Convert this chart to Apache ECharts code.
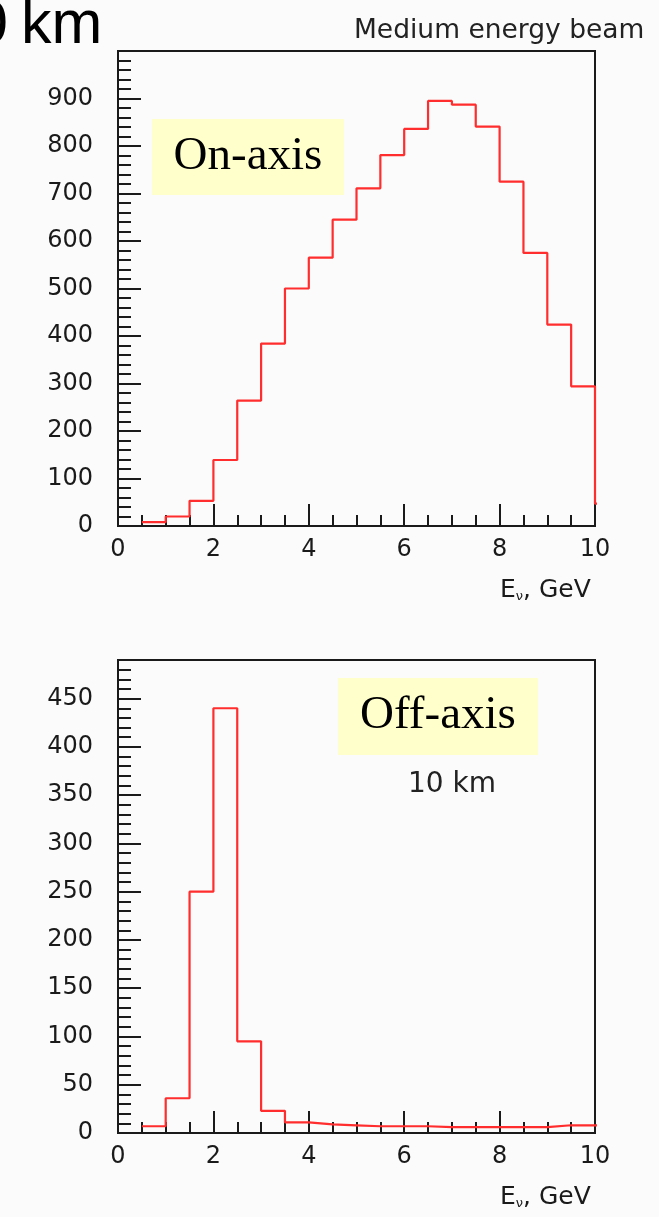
<!DOCTYPE html>
<html>
<head>
<meta charset="utf-8">
<script src="https://cdn.jsdelivr.net/npm/echarts@6/dist/echarts.min.js"></script>
<style>
html,body{margin:0;padding:0;background:#fbfbfb;}
#chart{width:659px;height:1217px;}
</style>
</head>
<body>
<div id="chart"></div>
<script>
// Bin lower edges (GeV), bin width 0.5; the last bin (10.0) lies beyond the axis and is clipped
const binLow = [0.5, 1.0, 1.5, 2.0, 2.5, 3.0, 3.5, 4.0, 4.5, 5.0, 5.5, 6.0, 6.5, 7.0, 7.5, 8.0, 8.5, 9.0, 9.5, 10.0];
const binWidth = 0.5;
const onAxisCounts  = [8, 20, 53, 139, 264, 384, 500, 565, 645, 711, 781, 836, 895, 887, 841, 725, 575, 424, 294, 47];
const offAxisCounts = [7, 36, 250, 440, 95, 23, 11, 9, 8, 7, 7, 7, 6, 6, 6, 6, 6, 8, 8, 8];
const xTicks = [0, 2, 4, 6, 8, 10];
const onAxisYMax = 1000, onAxisYStep = 100;
const offAxisYMax = 490, offAxisYStep = 50;

function histData(counts) {
  const d = binLow.map((x, i) => [x, counts[i]]);
  d.push([binLow[binLow.length - 1] + binWidth, counts[counts.length - 1]]);
  return d;
}

const ink = '#1a1a1a';
const red = '#ff2d2d';
const labelFont = 'DejaVu Sans';

function xAxis(gridIndex) {
  return {
    type: 'value', gridIndex: gridIndex, min: xTicks[0], max: xTicks[xTicks.length - 1], interval: 2,
    axisLine: { show: true, lineStyle: { color: ink, width: 2 } },
    axisTick: { show: true, inside: true, length: 22, lineStyle: { color: ink, width: 2 } },
    minorTick: { show: true, splitNumber: 4, length: 11, lineStyle: { color: ink, width: 2 } },
    splitLine: { show: false },
    axisLabel: { color: ink, fontSize: 24, fontFamily: labelFont, margin: 12 },
    name: '{e|E}{s|ν}{e|, GeV}',
    nameLocation: 'end', nameGap: -95,
    nameTextStyle: {
      align: 'left', verticalAlign: 'top', padding: [52, 0, 0, 0],
      rich: {
        e: { fontSize: 25, fontFamily: labelFont, color: ink },
        s: { fontSize: 13, fontFamily: labelFont, color: ink, verticalAlign: 'bottom', padding: [11, 0, 0, 0] }
      }
    }
  };
}
function yAxis(gridIndex, max, step) {
  return {
    type: 'value', gridIndex: gridIndex, min: 0, max: max, interval: step,
    axisLine: { show: true, lineStyle: { color: ink, width: 2 } },
    axisTick: { show: true, inside: true, length: 23, lineStyle: { color: ink, width: 2 } },
    minorTick: { show: true, splitNumber: 5, length: 13, lineStyle: { color: ink, width: 2 } },
    splitLine: { show: false },
    axisLabel: { color: ink, fontSize: 24, fontFamily: labelFont, margin: 25, align: 'right', showMaxLabel: false }
  };
}

const chart = echarts.init(document.getElementById('chart'), null, { renderer: 'canvas' });
chart.setOption({
  animation: false,
  backgroundColor: '#fbfbfb',
  grid: [
    { left: 118, top: 51, width: 477, height: 475, show: true, borderColor: ink, borderWidth: 2, backgroundColor: 'transparent' },
    { left: 118, top: 660, width: 477, height: 473, show: true, borderColor: ink, borderWidth: 2, backgroundColor: 'transparent' }
  ],
  xAxis: [xAxis(0), xAxis(1)],
  yAxis: [yAxis(0, onAxisYMax, onAxisYStep), yAxis(1, offAxisYMax, offAxisYStep)],
  series: [
    { type: 'line', xAxisIndex: 0, yAxisIndex: 0, step: 'end', symbol: 'none', clip: true,
      lineStyle: { color: red, width: 2.2 }, data: histData(onAxisCounts), z: 1 },
    { type: 'line', xAxisIndex: 1, yAxisIndex: 1, step: 'end', symbol: 'none', clip: true,
      lineStyle: { color: red, width: 2.2 }, data: histData(offAxisCounts), z: 1 }
  ],
  graphic: [
    { type: 'text', right: 651, top: -4, style: { text: '0', font: '61px "Liberation Sans", Arial', fill: '#000' } },
    { type: 'text', left: 21, top: -4, style: { text: 'km', font: '61px "Liberation Sans", Arial', fill: '#000' } },
    { type: 'text', left: 354, top: 18, style: { text: 'Medium energy beam', font: '26.5px "DejaVu Sans"', fill: '#222' } },
    { type: 'rect', shape: { x: 152, y: 119, width: 192, height: 76 }, style: { fill: '#ffffcc' }, z: 10 },
    { type: 'text', x: 248, y: 157, z: 11, style: { text: 'On-axis', font: '47px "Liberation Serif", "Times New Roman", serif', fill: '#000', align: 'center', verticalAlign: 'middle' } },
    { type: 'rect', shape: { x: 338, y: 678, width: 200, height: 77 }, style: { fill: '#ffffcc' }, z: 10 },
    { type: 'text', x: 438, y: 716, z: 11, style: { text: 'Off-axis', font: '47px "Liberation Serif", "Times New Roman", serif', fill: '#000', align: 'center', verticalAlign: 'middle' } },
    { type: 'text', x: 452, y: 785, z: 11, style: { text: '10 km', font: '28px "DejaVu Sans"', fill: '#222', align: 'center', verticalAlign: 'middle' } }
  ]
});
</script>
</body>
</html>
